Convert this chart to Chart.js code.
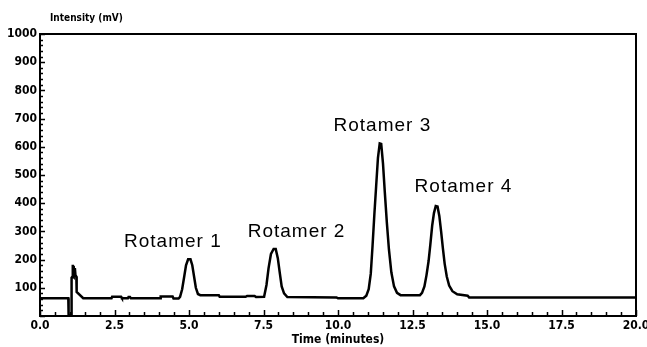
<!DOCTYPE html>
<html>
<head>
<meta charset="utf-8">
<script src="https://cdn.jsdelivr.net/npm/chart.js@4"></script>
<style>
  html, body { margin: 0; padding: 0; background: #fff; }
  #wrap { width: 647px; height: 347px; position: relative; }
</style>
</head>
<body>
<div id="wrap"><canvas id="chrom"></canvas></div>
<script>
// retention time (min) and detector signal (mV)
const times = [
  0.0, 0.95, 0.96, 1.05, 1.06, 1.09, 1.10, 1.11, 1.12, 1.13, 1.14, 1.15, 1.17, 1.19, 1.22, 1.23, 1.45,
  2.40, 2.42, 2.72, 2.75, 2.95, 2.97, 3.02, 3.05,
  4.03, 4.05, 4.45, 4.48, 4.65, 4.70, 4.77, 4.84, 4.90, 4.97, 5.05, 5.11, 5.17, 5.23, 5.30, 5.38,
  6.00, 6.03, 6.90, 6.95, 7.20, 7.25, 7.52, 7.60, 7.67, 7.75, 7.84, 7.91, 7.98, 8.05, 8.11, 8.19, 8.30,
  9.95, 10.00, 10.85, 10.95, 11.03, 11.10, 11.16, 11.22, 11.28, 11.34, 11.40, 11.45, 11.51, 11.57,
  11.64, 11.71, 11.79, 11.88, 11.98, 12.10,
  12.75, 12.82, 12.90, 12.97, 13.04, 13.10, 13.16, 13.22, 13.28, 13.34, 13.40, 13.46, 13.52, 13.58,
  13.65, 13.73, 13.84, 14.00, 14.35, 14.40, 20.0
];
const intensity = [
  63, 63, 2, 2, 136, 140, 182, 140, 175, 138, 178, 142, 170, 145, 140, 85, 63,
  63, 68, 68, 63, 63, 67, 67, 63,
  63, 69, 69, 62, 62, 68, 95, 140, 180, 201, 201, 180, 140, 100, 78, 74,
  74, 68, 68, 71, 71, 67, 68, 110, 170, 220, 238, 238, 205, 150, 105, 80, 67,
  66, 63, 63, 72, 95, 150, 250, 360, 460, 560, 612, 610, 540, 440,
  330, 235, 155, 105, 82, 74,
  74, 82, 105, 145, 195, 255, 320, 365, 390, 388, 355, 300, 240, 185,
  140, 108, 88, 77, 72, 66, 66
];

// peak labels, placed in data units
const peakNames = ['Rotamer 1', 'Rotamer 2', 'Rotamer 3', 'Rotamer 4'];
const peakLabelX = [4.46, 8.61, 11.49, 14.21];
const peakLabelY = [264, 299, 674, 459];

const xTickStep = 2.5;
const yTickStep = 100;

const tickFont = { family: "'DejaVu Sans Condensed', 'DejaVu Sans', sans-serif", size: 12, weight: 'bold' };

// frame, inward tick marks and text labels
const decorPlugin = {
  id: 'decor',
  afterDraw(chart) {
    const ctx = chart.ctx;
    const area = chart.chartArea;
    const xs = chart.scales.x;
    const ys = chart.scales.y;
    ctx.save();
    ctx.strokeStyle = '#000';
    ctx.lineWidth = 2;
    ctx.strokeRect(area.left, area.top, area.right - area.left, area.bottom - area.top);

    ctx.lineWidth = 1.5;
    ctx.beginPath();
    for (let i = 0; i <= 40; i++) {
      const px = Math.round(xs.getPixelForValue(i * 0.5)) + 0.5;
      const len = i % 5 === 0 ? 6 : 4;
      ctx.moveTo(px, area.bottom);
      ctx.lineTo(px, area.bottom - len);
    }
    for (let j = 0; j <= 50; j++) {
      const py = Math.round(ys.getPixelForValue(j * 20)) + 0.5;
      const len = j % 5 === 0 ? 5 : 3;
      ctx.moveTo(area.left, py);
      ctx.lineTo(area.left + len, py);
    }
    ctx.stroke();

    ctx.fillStyle = '#000';
    ctx.font = "bold 10px 'DejaVu Sans Condensed', 'DejaVu Sans', sans-serif";
    ctx.textAlign = 'left';
    ctx.textBaseline = 'middle';
    ctx.fillText('Intensity (mV)', 50, 18);

    ctx.font = "19px 'Liberation Sans', Arial, sans-serif";
    ctx.textAlign = 'center';
    ctx.textBaseline = 'middle';
    if ('letterSpacing' in ctx) ctx.letterSpacing = '1px';
    peakNames.forEach((name, k) => {
      ctx.fillText(name, xs.getPixelForValue(peakLabelX[k]), ys.getPixelForValue(peakLabelY[k]));
    });
    ctx.restore();
  }
};

new Chart(document.getElementById('chrom'), {
  type: 'line',
  data: {
    datasets: [{
      data: times.map((t, i) => ({ x: t, y: intensity[i] })),
      borderColor: '#000',
      borderWidth: 2.5,
      pointRadius: 0,
      tension: 0,
      fill: false
    }]
  },
  options: {
    responsive: true,
    maintainAspectRatio: false,
    animation: false,
    layout: { padding: { top: 34, right: 11, left: 0, bottom: 0 } },
    plugins: { legend: { display: false }, tooltip: { enabled: false } },
    scales: {
      x: {
        type: 'linear',
        min: 0,
        max: 20,
        grid: { display: false, drawTicks: false },
        border: { display: false },
        ticks: {
          stepSize: xTickStep,
          padding: 3,
          color: '#000',
          font: tickFont,
          maxRotation: 0,
          callback: v => v.toFixed(1)
        },
        title: {
          display: true,
          text: 'Time (minutes)',
          color: '#000',
          font: tickFont,
          padding: { top: 0, bottom: 0 }
        },
        afterFit(scale) {
          scale.height = 31;
          scale.paddingLeft = 0;
          scale.paddingRight = 0;
        }
      },
      y: {
        min: 0,
        max: 1000,
        grid: { display: false, drawTicks: false },
        border: { display: false },
        ticks: {
          stepSize: yTickStep,
          padding: 3,
          color: '#000',
          font: tickFont,
          callback: v => (v === 0 ? '' : v)
        },
        afterFit(scale) {
          scale.width = 40;
          scale.paddingTop = 0;
          scale.paddingBottom = 0;
        }
      }
    }
  },
  plugins: [decorPlugin]
});
</script>
</body>
</html>
